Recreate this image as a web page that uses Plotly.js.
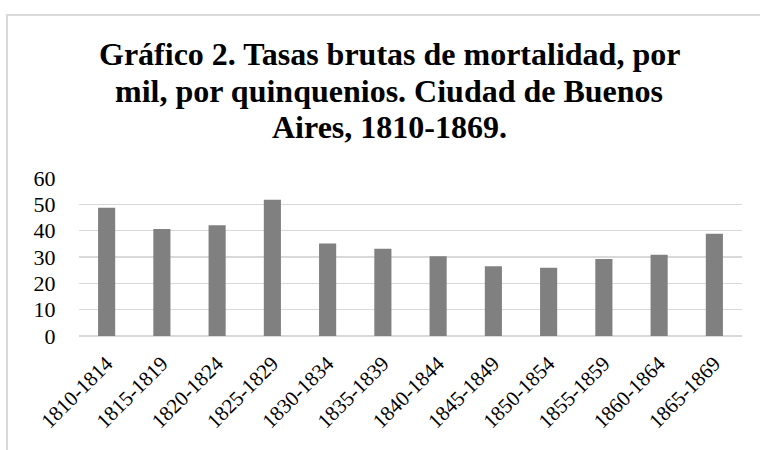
<!DOCTYPE html>
<html>
<head>
<meta charset="utf-8">
<script src="https://cdn.plot.ly/plotly-3.0.1.min.js"></script>
<style>
  html, body { margin: 0; padding: 0; background: #fff; }
  #wrap { position: relative; width: 760px; height: 450px; overflow: hidden; }
  #chart { width: 760px; height: 450px; }
  #frame { position: absolute; left: 6px; top: 14px; width: 800px; height: 500px;
           border: 2px solid #d9d9d9; pointer-events: none; }
</style>
</head>
<body>
<div id="wrap">
  <div id="chart"></div>
  <div id="frame"></div>
</div>
<script>
const categories = ["1810-1814","1815-1819","1820-1824","1825-1829","1830-1834","1835-1839",
                    "1840-1844","1845-1849","1850-1854","1855-1859","1860-1864","1865-1869"];
const tasas = [48.7, 40.6, 42.1, 51.7, 35.1, 33.1, 30.3, 26.5, 25.9, 29.2, 30.9, 38.8];
const yTicks = [0, 10, 20, 30, 40, 50, 60];
const titleLines = ["Gráfico 2. Tasas brutas de mortalidad, por",
                    "mil, por quinquenios. Ciudad de Buenos",
                    "Aires, 1810-1869."];

const serif = "Liberation Serif, Times New Roman, serif";

// plot area geometry (px) used to place the title lines
const plotTop = 178, plotBottom = 336, plotLeft = 79, plotRight = 742;
const lineCentersPx = [54, 91, 127];
const titleCenterPx = 389;

const annotations = titleLines.map((t, i) => ({
  text: t,
  xref: "paper", yref: "paper",
  x: (titleCenterPx - plotLeft) / (plotRight - plotLeft),
  y: (plotBottom - lineCentersPx[i]) / (plotBottom - plotTop),
  xanchor: "center", yanchor: "middle",
  showarrow: false,
  font: { family: serif, size: 32, color: "#000000", weight: "bold" }
}));

Plotly.newPlot("chart", [{
  type: "bar",
  x: categories,
  y: tasas,
  marker: { color: "#808080" },
  width: 0.31,
  hoverinfo: "x+y"
}], {
  width: 760, height: 450,
  paper_bgcolor: "#ffffff", plot_bgcolor: "#ffffff",
  margin: { l: plotLeft, r: 760 - plotRight, t: plotTop, b: 450 - plotBottom, pad: 0 },
  showlegend: false,
  annotations: annotations,
  xaxis: {
    type: "category",
    tickangle: -45,
    tickfont: { family: serif, size: 21, color: "#000000" },
    showgrid: false, zeroline: false, showline: false,
    ticks: "outside", ticklen: 6, tickcolor: "rgba(0,0,0,0)"
  },
  yaxis: {
    range: [0, 60],
    tickvals: yTicks,
    ticktext: yTicks.map(String),
    tickfont: { family: serif, size: 22, color: "#000000" },
    showgrid: true, gridcolor: "#d9d9d9", gridwidth: 1.5,
    zeroline: true, zerolinecolor: "#d9d9d9", zerolinewidth: 1.5,
    showline: false,
    ticks: "outside", ticklen: 18, tickcolor: "rgba(0,0,0,0)"
  }
}, { displayModeBar: false, staticPlot: true });
</script>
</body>
</html>
